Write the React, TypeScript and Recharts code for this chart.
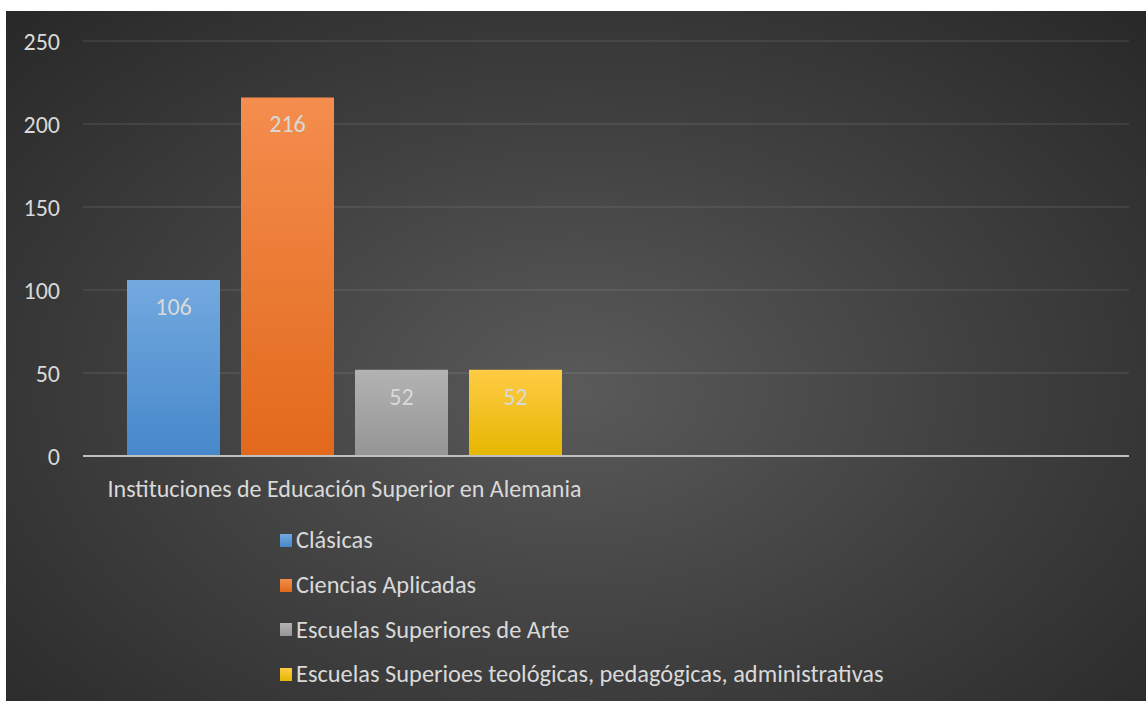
import React from "react";
import { BarChart, Bar, XAxis, YAxis, CartesianGrid, Legend, LabelList } from "recharts";

// one real category plus an empty one, as in the original sheet
const categories = ["Instituciones de Educación Superior en Alemania", ""];
const clasicas = [106, null];
const cienciasAplicadas = [216, null];
const escuelasArte = [52, null];
const escuelasTeologicas = [52, null];
const yTicks = [0, 50, 100, 150, 200, 250];

const series = [
    { key: "clasicas", name: "Clásicas", values: clasicas, top: "#73a9df", bottom: "#4688cb" },
    { key: "ciencias", name: "Ciencias Aplicadas", values: cienciasAplicadas, top: "#f48d4e", bottom: "#e2691b" },
    { key: "arte", name: "Escuelas Superiores de Arte", values: escuelasArte, top: "#b3b3b3", bottom: "#959595" },
    { key: "teo", name: "Escuelas Superioes teológicas, pedagógicas, administrativas", values: escuelasTeologicas, top: "#ffcb45", bottom: "#e5b700" },
];

const data = categories.map((category, i) => {
    const row: Record<string, string | number | null> = { category };
    series.forEach((s) => {
        row[s.key] = s.values[i];
    });
    return row;
});

const FONT = "Carlito, Lato, 'Open Sans', sans-serif";
const TEXT = "#d9d9d9";
const FS = 24;

function LegendContent() {
    return (
        <div style={{ height: 185, paddingTop: 2, boxSizing: "border-box", paddingLeft: 274, fontFamily: FONT }}>
            {series.map((s) => (
                <div key={s.key} style={{ height: 44.7, display: "flex", alignItems: "center" }}>
                    <span style={{ width: 12, height: 13, background: `linear-gradient(${s.top}, ${s.bottom})`, marginRight: 4 }} />
                    <span style={{ color: TEXT, fontSize: 24.4 }}>{s.name}</span>
                </div>
            ))}
        </div>
    );
}

export default function App() {
    return (
        <div
            style={{
                position: "absolute",
                left: 6,
                top: 11,
                width: 1140,
                height: 690,
                background: "radial-gradient(ellipse at 50% 55%, #5a5a5a 0%, #404040 50%, #282828 100%)",
            }}
        >
            <BarChart
                width={1140}
                height={690}
                data={data}
                margin={{ top: 30, right: 17, left: 0, bottom: 0 }}
                barCategoryGap={45}
                barGap={21}
                barSize={93}
            >
                <defs>
                    {series.map((s) => (
                        <linearGradient key={s.key} id={`grad-${s.key}`} x1="0" y1="0" x2="0" y2="1">
                            <stop offset="0%" stopColor={s.top} />
                            <stop offset="100%" stopColor={s.bottom} />
                        </linearGradient>
                    ))}
                </defs>
                <CartesianGrid vertical={false} stroke="rgba(255,255,255,0.1)" strokeWidth={1.5} />
                <XAxis
                    dataKey="category"
                    height={60}
                    tickLine={false}
                    tickSize={0}
                    tickMargin={24}
                    axisLine={{ stroke: "#bfbfbf", strokeWidth: 2 }}
                    tick={{ fill: TEXT, fontSize: FS, fontFamily: FONT }}
                />
                <YAxis
                    width={77}
                    domain={[0, 250]}
                    ticks={yTicks}
                    axisLine={false}
                    tickLine={false}
                    tickSize={0}
                    tickMargin={23}
                    tick={{ fill: TEXT, fontSize: FS, fontFamily: FONT }}
                />
                <Legend
                    layout="vertical"
                    verticalAlign="bottom"
                    align="center"
                    content={<LegendContent />}
                    wrapperStyle={{ left: 0, width: 1140 }}
                />
                {series.map((s) => (
                    <Bar key={s.key} dataKey={s.key} name={s.name} fill={`url(#grad-${s.key})`} isAnimationActive={false}>
                        <LabelList
                            dataKey={s.key}
                            position="insideTop"
                            offset={18}
                            fill={TEXT}
                            fontSize={FS}
                            fontFamily={FONT}
                        />
                    </Bar>
                ))}
            </BarChart>
        </div>
    );
}
